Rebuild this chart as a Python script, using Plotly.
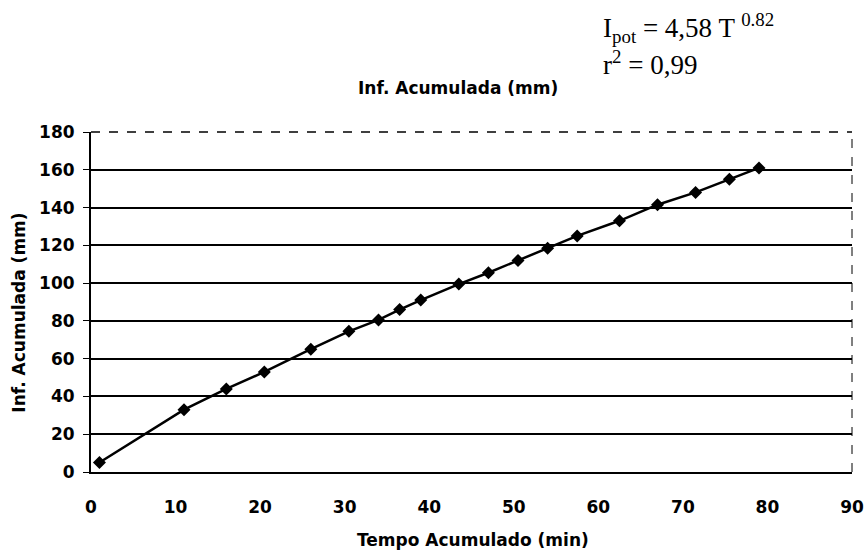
import plotly.graph_objects as go

# Data
tempo = [1, 11, 16, 20.5, 26, 30.5, 34, 36.5, 39, 43.5, 47, 50.5, 54, 57.5, 62.5, 67, 71.5, 75.5, 79]
infiltracao = [5, 33, 44, 53, 65, 74.5, 80.5, 86, 91, 99.5, 105.5, 112, 118.5, 125, 133, 141.5, 148, 155, 161]

x_ticks = [0, 10, 20, 30, 40, 50, 60, 70, 80, 90]
y_ticks = [0, 20, 40, 60, 80, 100, 120, 140, 160, 180]

title_text = "Inf. Acumulada (mm)"
x_title = "Tempo Acumulado (min)"
y_title = "Inf. Acumulada (mm)"
eq_line1 = "I<sub>pot</sub> = 4,58 T <sup>0.82</sup>"
eq_line2 = "r<sup>2</sup> = 0,99"

bold_font = dict(family="DejaVu Sans", size=17, color="black", weight="bold")
serif_font = dict(family="Liberation Serif", size=27, color="black")

fig = go.Figure()
fig.add_trace(go.Scatter(
    x=tempo, y=infiltracao, mode="lines+markers",
    line=dict(color="black", width=2.5),
    marker=dict(symbol="diamond", size=10, color="black"),
    showlegend=False,
))

fig.update_layout(
    width=867, height=554,
    margin=dict(l=91, r=15, t=132, b=82, autoexpand=False),
    paper_bgcolor="white", plot_bgcolor="white",
    xaxis=dict(
        range=[0, 90], tickvals=x_ticks, ticktext=[str(v) for v in x_ticks],
        showgrid=False, zeroline=False, automargin=False,
        showline=True, linecolor="black", linewidth=2,
        ticks="", tickfont=bold_font, ticklabelstandoff=19,
        ticklabeloverflow="allow",
    ),
    yaxis=dict(
        range=[0, 180], tickvals=y_ticks, ticktext=[str(v) for v in y_ticks],
        showgrid=True, gridcolor="black", gridwidth=1.5, zeroline=False,
        automargin=False,
        showline=True, linecolor="black", linewidth=2,
        ticks="outside", ticklen=6, tickcolor="black", tickwidth=1,
        tickfont=bold_font, ticklabelstandoff=5,
        ticklabeloverflow="allow",
    ),
    shapes=[
        dict(type="line", xref="paper", yref="paper", x0=1, x1=1, y0=0, y1=1,
             line=dict(color="black", width=1, dash="dash")),
        dict(type="line", xref="paper", yref="paper", x0=0, x1=1, y0=1, y1=1,
             line=dict(color="black", width=1.5, dash="dash")),
    ],
    annotations=[
        dict(text=title_text, xref="paper", yref="paper", x=0.482, y=1.129,
             xanchor="center", yanchor="middle", showarrow=False, font=bold_font),
        dict(text=x_title, xref="paper", yref="paper", x=0.502, y=-0.2,
             xanchor="center", yanchor="middle", showarrow=False, font=bold_font),
        dict(text=y_title, xref="paper", yref="paper", x=-0.094, y=0.47,
             xanchor="center", yanchor="middle", textangle=-90, showarrow=False, font=bold_font),
        dict(text=eq_line1, xref="paper", yref="paper", x=0.67, y=1.306,
             xanchor="left", yanchor="middle", showarrow=False, font=serif_font),
        dict(text=eq_line2, xref="paper", yref="paper", x=0.67, y=1.203,
             xanchor="left", yanchor="middle", showarrow=False, font=serif_font),
    ],
)

fig.write_html("out.html")
